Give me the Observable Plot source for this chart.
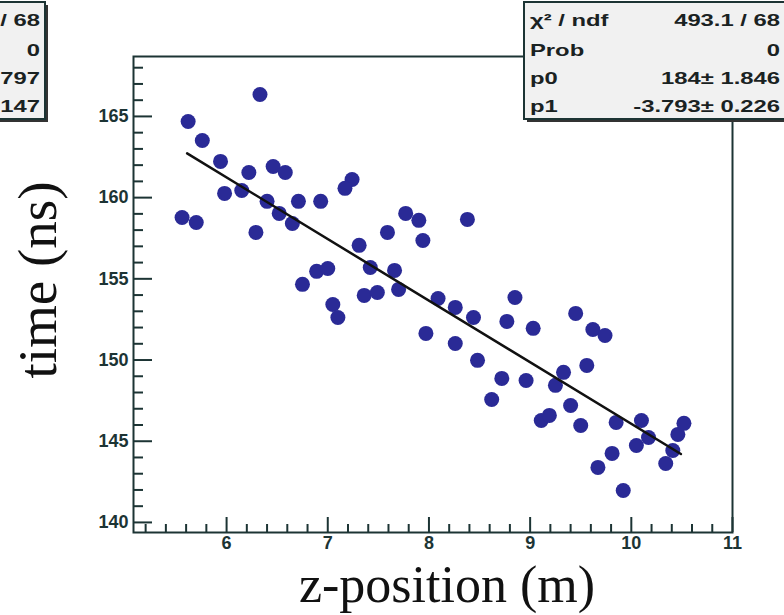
<!DOCTYPE html>
<html><head><meta charset="utf-8">
<script src="https://cdn.jsdelivr.net/npm/d3@7"></script>
<script src="https://cdn.jsdelivr.net/npm/@observablehq/plot@0.6"></script>
<style>
body{margin:0;background:#fff}
#chart{position:relative;width:784px;height:615px;overflow:hidden}
svg{display:block}
</style>
</head><body><div id="chart"></div>
<script>
// Data
const zPos = [6.33,5.62,5.76,5.94,6.22,6.46,6.58,5.98,6.15,6.40,6.71,6.93,7.24,7.17,5.56,5.70,6.29,6.52,6.65,7.77,7.90,7.59,7.94,7.31,7.42,7.66,7.70,6.89,7.00,6.75,7.36,7.49,7.05,7.10,8.38,8.09,8.26,8.44,8.85,8.77,9.03,9.45,9.62,9.74,7.97,8.26,8.48,8.72,8.96,9.33,9.25,9.56,8.62,9.11,9.19,9.40,9.50,9.85,10.10,10.05,10.17,9.81,9.67,9.92,10.34,10.41,10.46,10.52];
const times = [166.35,164.69,163.52,162.23,161.55,161.92,161.55,160.26,160.44,159.77,159.77,159.77,161.12,160.57,158.78,158.47,157.86,159.03,158.41,159.03,158.60,157.86,157.36,157.06,155.70,155.52,154.35,155.46,155.64,154.66,153.98,154.16,153.42,152.62,158.66,153.79,153.24,152.62,153.85,152.38,151.95,152.87,151.88,151.51,151.64,151.02,149.98,148.87,148.74,149.24,148.44,149.67,147.57,146.28,146.59,147.20,145.97,146.16,146.28,144.74,145.23,144.25,143.39,141.97,143.63,144.43,145.42,146.10];
const fitP0 = 184;
const fitP1 = -3.793;
const fitRange = [5.61, 10.49];
const xTicks = [6, 7, 8, 9, 10, 11];
const xMinor = [5.2,5.4,5.6,5.8,6.2,6.4,6.6,6.8,7.2,7.4,7.6,7.8,8.2,8.4,8.6,8.8,9.2,9.4,9.6,9.8,10.2,10.4,10.6,10.8];
const yTicks = [140, 145, 150, 155, 160, 165];
const yMinor = [141,142,143,144,146,147,148,149,151,152,153,154,156,157,158,159,161,162,163,164,166,167,168];
const xLabel = "z-position (m)";
const yLabel = "time (ns)";
const statLabels = ["χ² / ndf", "Prob", "p0", "p1"];
const statValues = ["493.1 / 68", "0", "184± 1.846", "-3.793± 0.226"];
const leftStatValues = ["/ 68", "0", "797", "147"];

const points = zPos.map((z, i) => ({z, t: times[i]}));
const fitLine = fitRange.map(x => ({x, y: fitP0 + fitP1 * x}));

const W = 784, H = 615, mL = 133, mR = 52, mT = 56, mB = 83;
const innerW = W - mL - mR, innerH = H - mT - mB;
const ink = "#1c3434";
const tickFont = "'Liberation Sans', Arial, sans-serif";

const plot = Plot.plot({
  width: W, height: H,
  marginLeft: mL, marginRight: mR, marginTop: mT, marginBottom: mB,
  x: {domain: [5.08, 11]},
  y: {domain: [139.38, 168.69]},
  style: {background: "#fff", fontFamily: tickFont, color: ink},
  marks: [
    Plot.tickX(xMinor, {x: d => d, insetTop: innerH - 8, stroke: ink, strokeWidth: 2}),
    Plot.tickX(xTicks, {x: d => d, insetTop: innerH - 15, stroke: ink, strokeWidth: 2}),
    Plot.tickY(yMinor, {y: d => d, insetRight: innerW - 10, stroke: ink, strokeWidth: 2}),
    Plot.tickY(yTicks, {y: d => d, insetRight: innerW - 19, stroke: ink, strokeWidth: 2}),
    Plot.axisX(xTicks, {tickSize: 0, tickPadding: 4, fontSize: 18, fontWeight: "bold", label: null, fill: ink}),
    Plot.axisY(yTicks, {tickSize: 0, tickPadding: 5, fontSize: 18, fontWeight: "bold", label: null, fill: ink}),
    Plot.dot(points, {x: "z", y: "t", r: 7.5, fill: "#2a2a96", stroke: null}),
    Plot.line(fitLine, {x: "x", y: "y", stroke: "#111", strokeWidth: 2.5}),
    Plot.frame({stroke: ink, strokeWidth: 2})
  ]
});
document.getElementById("chart").appendChild(plot);

const svg = d3.select(plot);
// Axis titles
svg.append("text")
  .attr("x", 447).attr("y", 602)
  .attr("text-anchor", "middle")
  .attr("font-family", "'Liberation Serif', 'Times New Roman', serif")
  .attr("font-size", 52).attr("fill", "#111")
  .text(xLabel);
svg.append("text")
  .attr("transform", "translate(56,280) rotate(-90)")
  .attr("text-anchor", "middle")
  .attr("font-family", "'Liberation Serif', 'Times New Roman', serif")
  .attr("font-size", 55).attr("fill", "#111")
  .text(yLabel);

// Stat boxes
const rowY = [26, 56, 84, 112];
function statText(g, x, y, anchor, str) {
  g.append("text")
    .attr("transform", `translate(${x},${y}) scale(1.4,1)`)
    .attr("text-anchor", anchor)
    .attr("font-family", tickFont)
    .attr("font-weight", "bold")
    .attr("font-size", 17)
    .attr("fill", "#1a2222")
    .text(str);
}
const gr = svg.append("g");
gr.append("rect").attr("x", 527).attr("y", 5).attr("width", 300).attr("height", 117).attr("fill", "#333");
gr.append("rect").attr("x", 524).attr("y", 2).attr("width", 300).attr("height", 117)
  .attr("fill", "#f1f1f1").attr("stroke", ink).attr("stroke-width", 2);
statLabels.forEach((s, i) => statText(gr, 530, rowY[i], "start", s));
statValues.forEach((s, i) => statText(gr, 780, rowY[i], "end", s));

const gl = svg.append("g");
gl.append("rect").attr("x", -100).attr("y", 5).attr("width", 148).attr("height", 117).attr("fill", "#333");
gl.append("rect").attr("x", -100).attr("y", 2).attr("width", 145).attr("height", 117)
  .attr("fill", "#f1f1f1").attr("stroke", ink).attr("stroke-width", 2);
leftStatValues.forEach((s, i) => statText(gl, 40, rowY[i], "end", s));
</script>
</body></html>
